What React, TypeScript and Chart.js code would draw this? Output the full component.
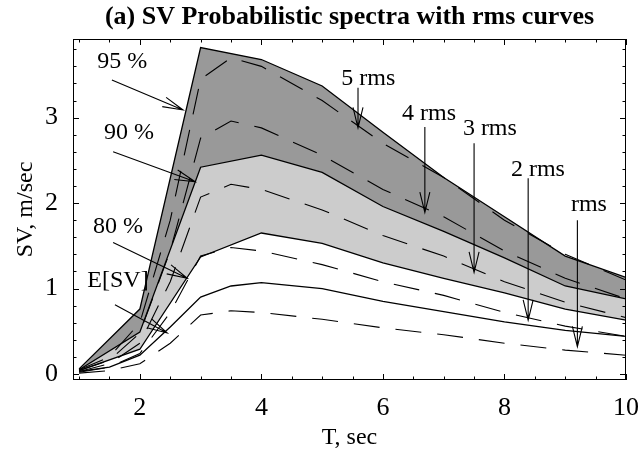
import React, { useEffect, useRef } from "react";
import { Chart, registerables } from "chart.js";

Chart.register(...registerables);

// ---- data ----
const periods = [1, 2, 3, 4, 5, 6, 7, 8, 9, 10];
const p95 = [0.06, 0.76, 3.82, 3.68, 3.37, 2.83, 2.3, 1.84, 1.38, 1.13];
const p90 = [0.05, 0.49, 2.42, 2.56, 2.36, 1.96, 1.67, 1.36, 1.03, 0.88];
const p80 = [0.04, 0.29, 1.37, 1.65, 1.53, 1.3, 1.12, 0.95, 0.76, 0.63];

const finePeriods = [1, 1.5, 2, 2.5, 3, 3.5, 4, 5, 6, 7, 8, 9, 10];
const meanSV = [0.03, 0.08, 0.22, 0.55, 0.9, 1.03, 1.07, 1.0, 0.85, 0.73, 0.61, 0.51, 0.44];
const rms1 = [0.01, 0.04, 0.12, 0.36, 0.69, 0.74, 0.72, 0.64, 0.54, 0.46, 0.36, 0.28, 0.22];
const rms2 = [0.02, 0.08, 0.24, 0.72, 1.38, 1.48, 1.44, 1.28, 1.08, 0.92, 0.72, 0.56, 0.44];
const rms3 = [0.03, 0.12, 0.36, 1.08, 2.07, 2.22, 2.16, 1.92, 1.62, 1.38, 1.08, 0.84, 0.66];
const rms4 = [0.04, 0.16, 0.48, 1.44, 2.76, 2.96, 2.88, 2.56, 2.16, 1.84, 1.44, 1.12, 0.88];
const rms5 = [0.05, 0.2, 0.6, 1.8, 3.45, 3.7, 3.6, 3.2, 2.7, 2.3, 1.8, 1.4, 1.1];

const xTickValues = [2, 4, 6, 8, 10];
const yTickValues = [0, 1, 2, 3];

const titleText = "(a) SV Probabilistic spectra with rms curves";
const xTitle = "T, sec";
const yTitle = "SV, m/sec";

// annotation labels (data coordinates)
const notes = [
  { text: "95 %", tx: 1.71, ty: 3.66, fx: 1.54, fy: 3.44, ex: 2.71, ey: 3.09 },
  { text: "90 %", tx: 1.82, ty: 2.82, fx: 1.56, fy: 2.6, ex: 2.91, ey: 2.25 },
  { text: "80 %", tx: 1.64, ty: 1.72, fx: 1.56, fy: 1.54, ex: 2.78, ey: 1.12 },
  { text: "E[SV]", tx: 1.64, ty: 1.09, fx: 1.59, fy: 0.81, ex: 2.45, ey: 0.48 },
  { text: "5 rms", tx: 5.76, ty: 3.46, fx: 5.59, fy: 3.35, ex: 5.59, ey: 2.88 },
  { text: "4 rms", tx: 6.76, ty: 3.05, fx: 6.69, fy: 2.89, ex: 6.69, ey: 1.89 },
  { text: "3 rms", tx: 7.76, ty: 2.87, fx: 7.5, fy: 2.7, ex: 7.5, ey: 1.19 },
  { text: "2 rms", tx: 8.55, ty: 2.39, fx: 8.39, fy: 2.29, ex: 8.39, ey: 0.63 },
  { text: "rms", tx: 9.39, ty: 1.98, fx: 9.2, fy: 1.8, ex: 9.2, ey: 0.32 },
];

const FONT = '"Liberation Serif", "Times New Roman", serif';

function pts(xs: number[], ys: number[]) {
  return xs.map((x, i) => ({ x, y: ys[i] }));
}

const decorPlugin = {
  id: "decor",
  afterDraw(chart: any) {
    const { ctx, chartArea: a, scales } = chart;
    const xs = scales.x;
    const ys = scales.y;
    ctx.save();
    ctx.strokeStyle = "#000";
    ctx.fillStyle = "#000";
    ctx.lineWidth = 1;
    // frame
    ctx.strokeRect(Math.round(a.left) + 0.5, Math.round(a.top) + 0.5,
      Math.round(a.right - a.left) - 1, Math.round(a.bottom - a.top) - 1);
    // ticks
    ctx.beginPath();
    for (let i = 2; i <= 20; i++) {
      const v = i / 2;
      const px = Math.round(xs.getPixelForValue(v)) + 0.5;
      const len = xTickValues.includes(v) ? 6 : 3.5;
      ctx.moveTo(px, a.bottom);
      ctx.lineTo(px, a.bottom - len);
      ctx.moveTo(px, a.top);
      ctx.lineTo(px, a.top + len);
    }
    for (let i = 0; i <= 19; i++) {
      const v = i / 5;
      const py = Math.round(ys.getPixelForValue(v)) + 0.5;
      const len = i % 5 === 0 ? 6 : 3.5;
      ctx.moveTo(a.left, py);
      ctx.lineTo(a.left + len, py);
      ctx.moveTo(a.right, py);
      ctx.lineTo(a.right - len, py);
    }
    ctx.stroke();

    // title
    ctx.font = `bold 26px ${FONT}`;
    ctx.textAlign = "center";
    ctx.textBaseline = "middle";
    ctx.fillText(titleText, (a.left + a.right) / 2, 17);

    // annotations
    ctx.font = `24px ${FONT}`;
    ctx.lineWidth = 1.1;
    notes.forEach((n) => {
      ctx.fillText(n.text, xs.getPixelForValue(n.tx), ys.getPixelForValue(n.ty));
      const x0 = xs.getPixelForValue(n.fx);
      const y0 = ys.getPixelForValue(n.fy);
      const x1 = xs.getPixelForValue(n.ex);
      const y1 = ys.getPixelForValue(n.ey);
      const ang = Math.atan2(y1 - y0, x1 - x0);
      const hl = 21;
      const hw = 0.24;
      ctx.beginPath();
      ctx.moveTo(x0, y0);
      ctx.lineTo(x1, y1);
      ctx.moveTo(x1 - hl * Math.cos(ang - hw), y1 - hl * Math.sin(ang - hw));
      ctx.lineTo(x1, y1);
      ctx.lineTo(x1 - hl * Math.cos(ang + hw), y1 - hl * Math.sin(ang + hw));
      ctx.stroke();
    });
    ctx.restore();
  },
};

export default function App() {
  const ref = useRef<HTMLCanvasElement | null>(null);
  useEffect(() => {
    if (!ref.current) return;
    const solid = { borderColor: "#000", borderWidth: 1.3, pointRadius: 0, tension: 0 };
    const dashed = { borderColor: "#000", borderWidth: 1.1, pointRadius: 0, tension: 0, borderDash: [26, 16], fill: false };
    const chart = new Chart(ref.current, {
      type: "line",
      data: {
        datasets: [
          { label: "95 %", data: pts(periods, p95), ...solid, fill: "+1", backgroundColor: "#999999" },
          { label: "90 %", data: pts(periods, p90), ...solid, fill: "+1", backgroundColor: "#cccccc" },
          { label: "80 %", data: pts(periods, p80), ...solid, fill: false },
          { label: "E[SV]", data: pts(finePeriods, meanSV), ...solid, fill: false },
          { label: "rms", data: pts(finePeriods, rms1), ...dashed },
          { label: "2 rms", data: pts(finePeriods, rms2), ...dashed },
          { label: "3 rms", data: pts(finePeriods, rms3), ...dashed },
          { label: "4 rms", data: pts(finePeriods, rms4), ...dashed },
          { label: "5 rms", data: pts(finePeriods, rms5), ...dashed },
        ] as any,
      },
      options: {
        animation: false,
        responsive: false,
        devicePixelRatio: 1,
        layout: { padding: { left: 0, right: 14, top: 39, bottom: 0 } },
        plugins: {
          legend: { display: false },
          title: { display: false },
          tooltip: { enabled: false },
          filler: { drawTime: "beforeDatasetsDraw" },
        } as any,
        scales: {
          x: {
            type: "linear",
            min: 0.9,
            max: 10,
            grid: { display: false, drawTicks: false },
            border: { display: false },
            afterFit: (s: any) => { s.height = 79; s.paddingLeft = 0; s.paddingRight = 0; },
            afterBuildTicks: (s: any) => { s.ticks = xTickValues.map((v) => ({ value: v })); },
            ticks: { color: "#000", font: { family: FONT, size: 26 }, padding: 13, maxRotation: 0 },
            title: { display: true, text: xTitle, color: "#000", font: { family: FONT, size: 24 }, padding: { top: 0, bottom: 7 } },
          },
          y: {
            type: "linear",
            min: -0.07,
            max: 3.92,
            grid: { display: false, drawTicks: false },
            border: { display: false },
            afterFit: (s: any) => { s.width = 73; s.paddingTop = 0; s.paddingBottom = 0; },
            afterBuildTicks: (s: any) => { s.ticks = yTickValues.map((v) => ({ value: v })); },
            ticks: { color: "#000", font: { family: FONT, size: 26 }, padding: 15 },
            title: { display: true, text: yTitle, color: "#000", font: { family: FONT, size: 24 }, padding: { top: 11, bottom: 0 } },
          },
        },
      } as any,
      plugins: [decorPlugin],
    });
    return () => chart.destroy();
  }, []);
  return (
    <div style={{ position: "absolute", left: 0, top: 0, width: 640, height: 459, background: "#fff" }}>
      <canvas ref={ref} width={640} height={459} />
    </div>
  );
}
